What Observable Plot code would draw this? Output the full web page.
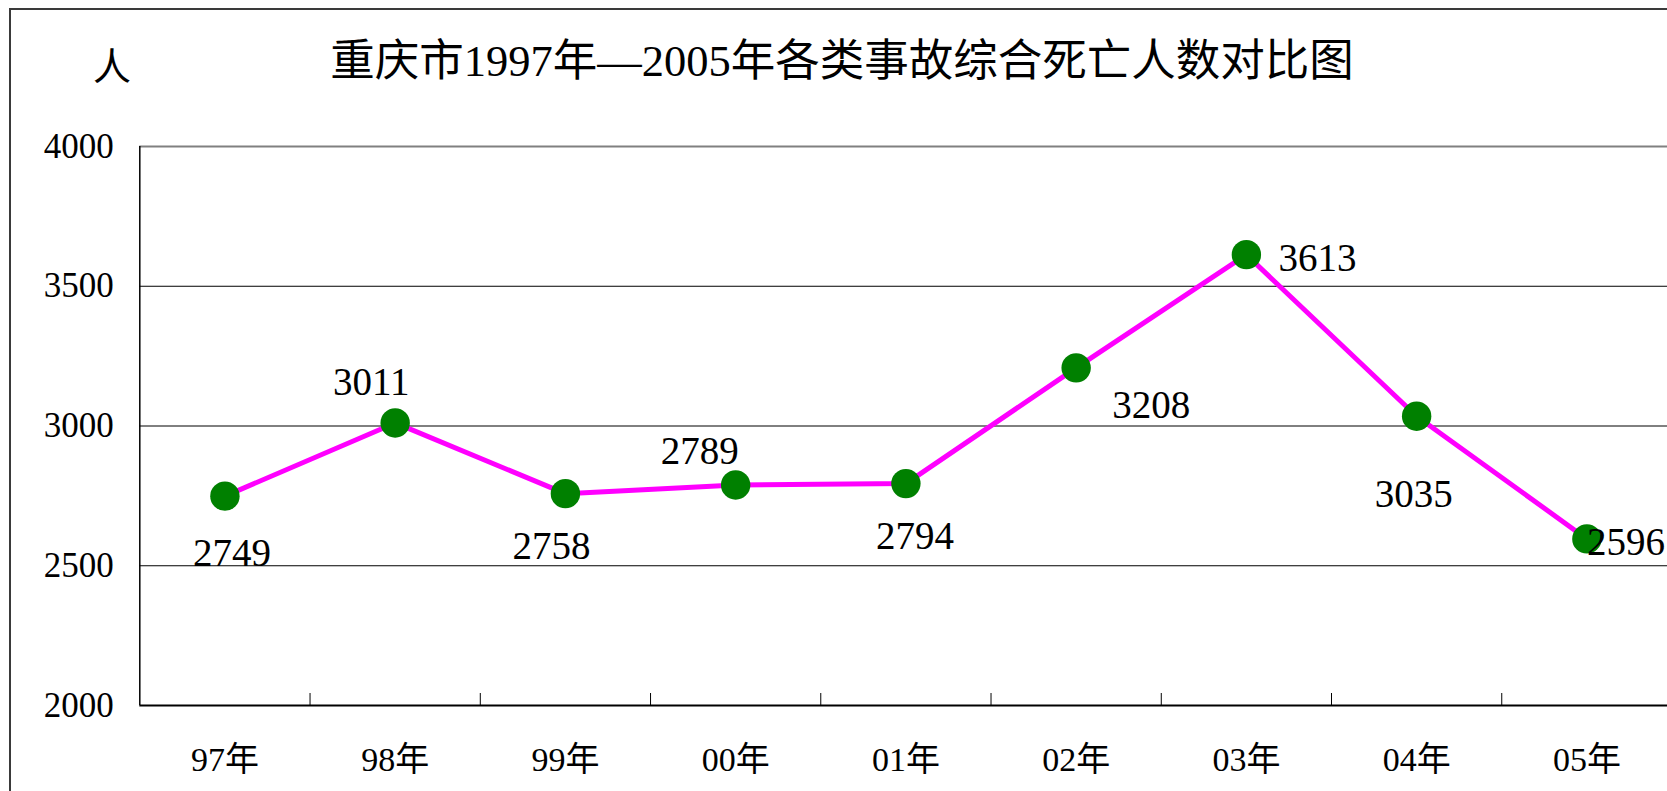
<!DOCTYPE html>
<html>
<head>
<meta charset="utf-8">
<script src="https://cdn.jsdelivr.net/npm/d3@7"></script>
<script src="https://cdn.jsdelivr.net/npm/@observablehq/plot@0.6"></script>
<style>
  html, body { margin: 0; padding: 0; background: #fff; overflow: hidden; }
  #wrap { position: relative; width: 1667px; height: 791px; overflow: hidden; background: #fff;
          font-family: "Liberation Serif", "Noto Sans CJK SC", serif; color: #000; }
  #border { position: absolute; left: 9px; top: 8px; width: 2000px; height: 2000px;
            border: 2px solid #3a3a3a; box-sizing: border-box; }
  #header { position: relative; height: 100px; }
  #title { position: absolute; left: 842px; top: 39px; transform: translateX(-50%);
           font-size: 44.5px; line-height: 44px; white-space: nowrap; }
  #unit { position: absolute; left: 112px; top: 48px; transform: translateX(-50%);
          font-size: 38px; line-height: 38px; }
  #chart { position: relative; }
  #chart svg { max-width: none; display: block; }
</style>
</head>
<body>
<div id="wrap">
  <div id="border"></div>
  <div id="header">
    <div id="unit">人</div>
    <div id="title">重庆市1997年—2005年各类事故综合死亡人数对比图</div>
  </div>
  <div id="chart"></div>
</div>
<script>
const years = ["97年", "98年", "99年", "00年", "01年", "02年", "03年", "04年", "05年"];
const deaths = [2749, 3011, 2758, 2789, 2794, 3208, 3613, 3035, 2596];
const yTicks = [2000, 2500, 3000, 3500, 4000];
// label placement (pixel offsets from each point), as in the original
const labelOffsets = [[7, 57], [-24, -40], [-14, 53], [-36, -33], [9, 53], [75, 38], [71, 4], [-3, 78], [39, 4]];

const data = years.map((year, i) => ({year, i, deaths: deaths[i]}));
const xPos = d => d.i + 0.5;

const chart = Plot.plot({
  width: 1667,
  height: 691,
  marginTop: 46,
  marginBottom: 86,
  marginLeft: 139.3,
  marginRight: 0,
  x: {type: "linear", domain: [0, years.length], range: [139.3, 1671.5], axis: null},
  y: {domain: [yTicks[0], yTicks[yTicks.length - 1]], axis: null},
  style: {fontFamily: '"Liberation Serif", "Noto Sans CJK SC", serif', background: "transparent", color: "#000"},
  marks: [
    Plot.ruleY(yTicks.slice(1, -1), {stroke: "#000", strokeWidth: 1}),
    Plot.ruleY(yTicks.slice(-1), {stroke: "#808080", strokeWidth: 2.2}),
    Plot.tickX(d3.range(1, years.length), {stroke: "#000", strokeWidth: 1, insetTop: 547}),
    Plot.ruleY(yTicks.slice(0, 1), {stroke: "#000", strokeWidth: 2}),
    Plot.ruleX([0], {stroke: "#000", strokeWidth: 1.5}),
    Plot.axisY(yTicks, {anchor: "left", label: null, tickSize: 0, tickPadding: 26, fontSize: 35, tickFormat: d => String(d)}),
    Plot.axisX(data.map(xPos), {anchor: "bottom", label: null, tickSize: 0, tickPadding: 41, fontSize: 34,
      tickFormat: v => years[Math.floor(v)]}),
    Plot.lineY(data, {x: xPos, y: "deaths", stroke: "#FF00FF", strokeWidth: 5}),
    Plot.dot(data, {x: xPos, y: "deaths", r: 14.7, fill: "#008000", stroke: "none"}),
    ...data.map((d, k) => Plot.text([d], {
      x: xPos, y: "deaths", text: r => String(r.deaths),
      dx: labelOffsets[k][0], dy: labelOffsets[k][1], fontSize: 39, fill: "#000"
    }))
  ]
});
document.getElementById("chart").appendChild(chart);
</script>
</body>
</html>
